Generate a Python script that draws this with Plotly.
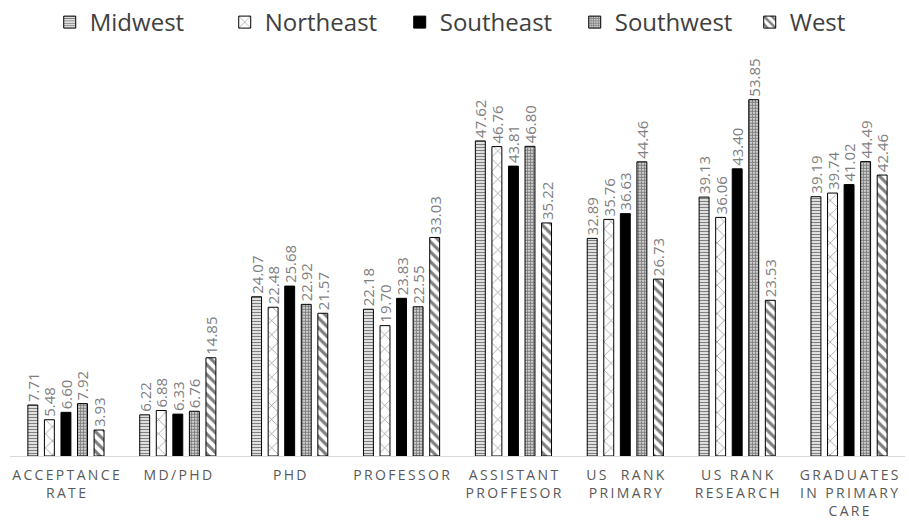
import plotly.graph_objects as go

categories = ["ACCEPTANCE<br>RATE", "MD/PHD", "PHD", "PROFESSOR", "ASSISTANT<br>PROFFESOR",
              "US  RANK<br>PRIMARY", "US RANK<br>RESEARCH", "GRADUATES<br>IN PRIMARY<br>CARE"]
regions = ["Midwest", "Northeast", "Southeast", "Southwest", "West"]
midwest = [7.71, 6.22, 24.07, 22.18, 47.62, 32.89, 39.13, 39.19]
northeast = [5.48, 6.88, 22.48, 19.70, 46.76, 35.76, 36.06, 39.74]
southeast = [6.60, 6.33, 25.68, 23.83, 43.81, 36.63, 43.40, 41.02]
southwest = [7.92, 6.76, 22.92, 22.55, 46.80, 44.46, 53.85, 44.49]
west = [3.93, 14.85, 21.57, 33.03, 35.22, 26.73, 23.53, 42.46]
series = [midwest, northeast, southeast, southwest, west]

patterns = [
    dict(shape="-", size=3, solidity=0.5, fgcolor="black", bgcolor="white"),
    dict(shape="x", size=10, solidity=0.12, fgcolor="black", bgcolor="white"),
    dict(shape="", fgcolor="black", bgcolor="black"),
    dict(shape=".", size=3, solidity=0.7, fgcolor="black", bgcolor="white"),
    dict(shape="\\", size=7, solidity=0.45, fgcolor="black", bgcolor="white"),
]
fills = ["white", "white", "black", "white", "white"]

SP = "\u2006"


def spaced(label):
    lines = label.split("<br>")
    return "<br>".join(SP.join(list(line)) for line in lines)


ticktext = [spaced(c) for c in categories]

fig = go.Figure()
for name, vals, pat, fc in zip(regions, series, patterns, fills):
    fig.add_trace(go.Bar(
        name=name, x=list(range(len(categories))), y=vals,
        marker=dict(color=fc, pattern=pat, line=dict(color="black", width=1)),
        texttemplate="%{y:.2f}", textposition="outside", textangle=-90,
        textfont=dict(size=15, color="#7f7f7f", family="Open Sans"),
        cliponaxis=False, constraintext="none",
    ))

fig.update_layout(
    width=909, height=526,
    margin=dict(l=10, r=4, t=59, b=70, autoexpand=False),
    plot_bgcolor="white", paper_bgcolor="white",
    barmode="group", bargap=0.26, bargroupgap=0.4,
    font=dict(family="Open Sans", color="#404040"),
    legend=dict(orientation="h", x=0.536, xanchor="center", xref="container",
                y=1.0, yanchor="top", yref="container",
                font=dict(size=24, color="#404040"), itemwidth=30,
                entrywidth=130, entrywidthmode="pixels",
                traceorder="normal"),
    showlegend=True,
)
fig.update_xaxes(tickmode="array", tickvals=list(range(len(categories))), ticktext=ticktext,
                 showline=True, linecolor="#d9d9d9", linewidth=1, ticks="",
                 tickfont=dict(size=14, color="#595959"), showgrid=False, tickangle=0,
                 ticklabelstandoff=6)
fig.update_yaxes(range=[0, 60], visible=False, showgrid=False)

fig.write_html("out.html")
